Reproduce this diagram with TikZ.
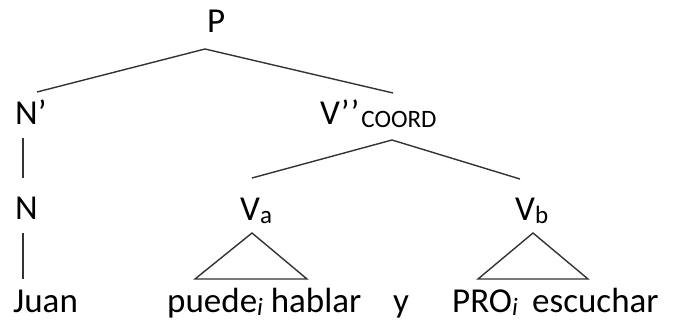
\documentclass[tikz,border=0pt]{standalone}
\usepackage{fontspec}
\setmainfont{Carlito}
\newcommand{\sbs}[1]{\raisebox{-3pt}{\fontsize{25}{29}\selectfont #1}}

\begin{document}
\begin{tikzpicture}[x=1pt,y=-1pt,
    lbl/.style={inner sep=0pt,anchor=base west,font=\fontsize{35}{42}\selectfont},
    branch/.style={line width=1.4pt,black!80}]
  \useasboundingbox (0,0) rectangle (673,323);

  % labels of the tree
  \node[lbl] (P)     at (207,33)  {P};
  \node[lbl] (Nbar)  at (15,125)  {N’};
  \node[lbl] (Vco)   at (320,125) {V’\kern1pt’\kern2pt\sbs{COORD}};
  \node[lbl] (N)     at (15,220)  {N};
  \node[lbl] (Va)    at (240,221) {V\sbs{a}};
  \node[lbl] (Vb)    at (515,221) {V\sbs{b}};

  % words
  \node[lbl] (juan)  at (13,313)  {Juan};
  \node[lbl] (puede) at (167,313) {puede\sbs{\itshape i} hablar};
  \node[lbl] (y)     at (393,313) {y};
  \node[lbl] (pro)   at (452,313) {PRO\sbs{\itshape i}};
  \node[lbl] (esc)   at (532,313) {escuchar};

  % branches
  \draw[branch] ([shift={(22,-33)}]Nbar.base west) -- ([shift={(-2,16)}]P.base west)
    -- ([shift={(73,-32)}]Vco.base west);
  \draw[branch] ([shift={(8,13)}]Nbar.base west) -- ([shift={(8,-42)}]N.base west);
  \draw[branch] ([shift={(8,13)}]N.base west) -- ([shift={(10,-34)}]juan.base west);
  \draw[branch] ([shift={(12,-43)}]Va.base west) -- ([shift={(72,15)}]Vco.base west)
    -- ([shift={(5,-42)}]Vb.base west);

  % triangles
  \draw[branch] ([shift={(12,12)}]Va.base west) -- ([shift={(28,-34)}]puede.base west)
    -- ([shift={(140,-34)}]puede.base west) -- cycle;
  \draw[branch] ([shift={(18,12)}]Vb.base west) -- ([shift={(26,-34)}]pro.base west)
    -- ([shift={(56,-34)}]esc.base west) -- cycle;
\end{tikzpicture}
\end{document}
